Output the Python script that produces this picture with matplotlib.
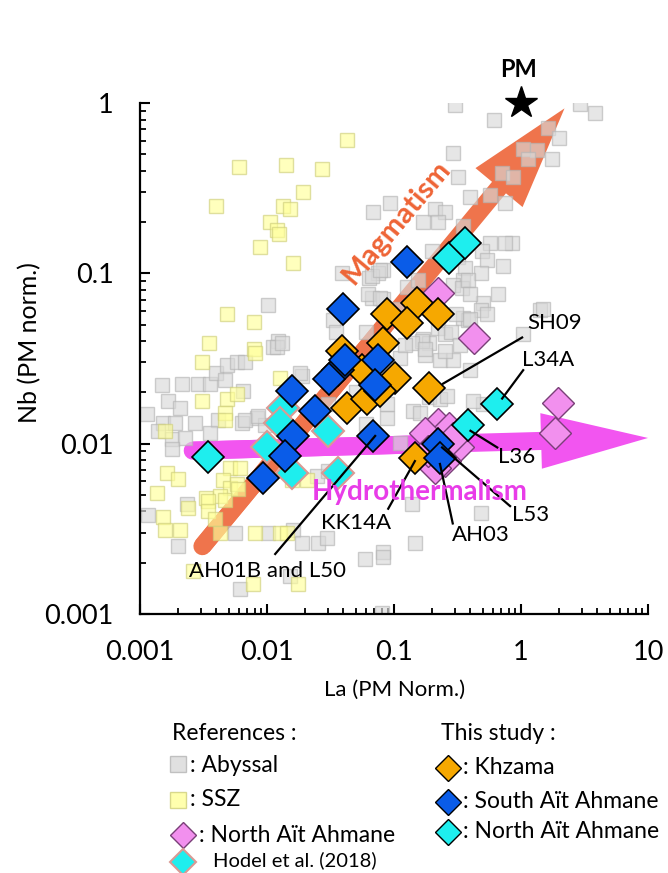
import numpy as np
import matplotlib.pyplot as plt
from matplotlib.lines import Line2D

plt.rcParams['font.family'] = ['Lato', 'DejaVu Sans']

# reference data : abyssal peridotites (grey squares)
abyssal_la = [0.30, 0.61, 2.9, 3.8, 1.63, 2.0, 1.04, 1.34, 0.29, 1.13, 1.75, 0.71, 0.86, 0.32,
              0.40, 0.57, 0.75, 0.093, 0.21, 0.25, 0.17, 0.22, 0.35, 0.85, 0.75, 0.57, 0.49,
              0.20, 0.32, 0.54, 0.72, 0.36, 0.082, 0.48, 0.35, 0.126, 0.29, 0.34, 0.66, 0.50,
              1.41, 1.49, 0.48, 0.54, 0.35, 0.38, 0.22, 1.04, 0.25, 0.17, 0.19, 0.068, 0.039,
              0.075, 0.064, 0.067, 0.082, 0.0102, 0.033, 0.0122, 0.0111, 0.00149, 0.00214,
              0.00286, 0.00356, 0.0040, 0.0048, 0.0058, 0.0047, 0.0065, 0.00166, 0.00207,
              0.00114, 0.00152, 0.00189, 0.0027, 0.0041, 0.0064, 0.0083, 0.00139, 0.00179,
              0.00226, 0.00356, 0.00179, 0.0096, 0.0120, 0.0131, 0.0189, 0.0248, 0.030,
              0.00116, 0.0020, 0.00234, 0.0056, 0.0102, 0.0160, 0.0189, 0.0252, 0.0297, 0.059,
              0.082, 0.082, 0.146, 0.0061, 0.0152, 0.080, 0.48, 0.139, 0.50, 0.19, 0.23, 0.141,
              0.160, 0.0067, 0.0182, 0.0067, 0.0085, 0.067, 0.078, 0.062, 0.078, 0.155, 0.106,
              0.38, 0.40, 0.31, 0.40, 0.28, 0.166, 0.139, 0.175, 0.23, 0.29, 0.111, 0.26, 0.088,
              0.42, 0.111, 0.088, 0.122, 0.175, 0.25, 0.33, 0.40, 0.05, 0.03, 0.06, 0.045,
              0.035, 0.06]
abyssal_nb = [0.97, 0.79, 0.99, 0.87, 0.71, 0.62, 0.54, 0.53, 0.51, 0.47, 0.47, 0.39, 0.37, 0.37,
              0.28, 0.29, 0.26, 0.26, 0.24, 0.23, 0.20, 0.20, 0.19, 0.15, 0.15, 0.15, 0.136,
              0.136, 0.124, 0.119, 0.111, 0.107, 0.104, 0.101, 0.091, 0.083, 0.085, 0.082,
              0.076, 0.067, 0.061, 0.062, 0.061, 0.058, 0.055, 0.053, 0.048, 0.044, 0.044,
              0.041, 0.039, 0.23, 0.101, 0.101, 0.094, 0.072, 0.071, 0.065, 0.053, 0.040,
              0.037, 0.022, 0.0225, 0.0225, 0.0225, 0.026, 0.029, 0.030, 0.0235, 0.0205,
              0.0179, 0.0161, 0.0150, 0.0133, 0.0133, 0.0133, 0.0137, 0.0133, 0.0142, 0.0119,
              0.0107, 0.0108, 0.0115, 0.0093, 0.0128, 0.037, 0.039, 0.025, 0.0065, 0.0069,
              0.0038, 0.0025, 0.0044, 0.0030, 0.0030, 0.0031, 0.0026, 0.0026, 0.0028, 0.0021,
              0.0023, 0.00215, 0.0026, 0.0014, 0.00167, 0.00101, 0.0039, 0.0044, 0.0172,
              0.0187, 0.0184, 0.0156, 0.0152, 0.030, 0.026, 0.0137, 0.0146, 0.097, 0.104,
              0.076, 0.072, 0.091, 0.062, 0.091, 0.076, 0.058, 0.054, 0.045, 0.040, 0.039,
              0.033, 0.031, 0.031, 0.032, 0.019, 0.0142, 0.0179, 0.0101, 0.0172, 0.038, 0.036,
              0.035, 0.038, 0.027, 0.020, 0.017, 0.013, 0.030, 0.045, 0.045]

# reference data : SSZ peridotites (yellow squares)
ssz_la = [0.043, 0.0060, 0.0141, 0.027, 0.0192, 0.0040, 0.0134, 0.0152, 0.0106, 0.0120, 0.0124,
          0.0088, 0.0160, 0.0048, 0.0079, 0.0035, 0.0079, 0.0031, 0.0080, 0.0126, 0.0031,
          0.0048, 0.0058, 0.0047, 0.0047, 0.00157, 0.0051, 0.0061, 0.00163, 0.0020, 0.0045,
          0.0051, 0.0058, 0.00136, 0.0033, 0.0043, 0.0157, 0.0207, 0.00152, 0.00157, 0.00207,
          0.0024, 0.0034, 0.0034, 0.0039, 0.0047, 0.0059, 0.0043, 0.0081, 0.0126, 0.0143,
          0.0026, 0.0078, 0.0175]
ssz_nb = [0.61, 0.42, 0.43, 0.41, 0.30, 0.25, 0.25, 0.24, 0.20, 0.18, 0.17, 0.142, 0.115, 0.058,
          0.052, 0.039, 0.036, 0.030, 0.034, 0.0244, 0.0179, 0.0184, 0.0197, 0.0152, 0.0137,
          0.0119, 0.0072, 0.0072, 0.0067, 0.0062, 0.0061, 0.0055, 0.0058, 0.0051, 0.0048,
          0.0049, 0.0061, 0.0061, 0.0037, 0.0031, 0.0031, 0.0042, 0.0046, 0.0040, 0.0036,
          0.0047, 0.0054, 0.0030, 0.0030, 0.0030, 0.0030, 0.0018, 0.0015, 0.0015]

# Hodel et al. (2018), North Ait Ahmane
hodel_pink_la = [0.22, 0.43, 1.95, 1.85, 0.22, 0.27, 0.175, 0.32, 0.25, 0.21, 0.185, 0.29]
hodel_pink_nb = [0.077, 0.042, 0.0174, 0.0115, 0.0131, 0.0124, 0.0115, 0.0095, 0.0079, 0.0072,
                 0.0091, 0.0108]
hodel_cyan_la = [0.0134, 0.0126, 0.030, 0.010, 0.0157, 0.036]
hodel_cyan_nb = [0.0161, 0.0133, 0.0119, 0.0095, 0.0067, 0.0067]

# this study
khzama_la = [0.088, 0.152, 0.22, 0.126, 0.039, 0.082, 0.056, 0.102, 0.043, 0.061, 0.078, 0.19, 0.146]
khzama_nb = [0.058, 0.067, 0.058, 0.051, 0.035, 0.039, 0.027, 0.0244, 0.0163, 0.0184, 0.0205,
             0.0211, 0.0082]
south_la = [0.126, 0.040, 0.036, 0.041, 0.031, 0.075, 0.071, 0.0157, 0.0239, 0.0160, 0.0139,
            0.0093, 0.068, 0.22, 0.23]
south_nb = [0.116, 0.062, 0.027, 0.031, 0.024, 0.031, 0.022, 0.0205, 0.0156, 0.0111, 0.0085,
            0.0063, 0.0111, 0.0100, 0.0082]
north_la = [0.27, 0.36, 0.65, 0.38, 0.0034]
north_nb = [0.123, 0.15, 0.0172, 0.0128, 0.0083]

# sample labels : text position, then leader line (from, to)
lab_names = ['SH09', 'L34A', 'L36', 'L53', 'AH03', 'KK14A', 'AH01B and L50']
lab_x = [1.85, 1.63, 0.93, 1.18, 0.48, 0.050, 0.010]
lab_y = [0.0508, 0.031, 0.0083, 0.0038, 0.0029, 0.0034, 0.00179]
line_x0 = [1.02, 1.04, 0.65, 0.82, 0.29, 0.090, 0.0116]
line_y0 = [0.042, 0.027, 0.0095, 0.0043, 0.0034, 0.00415, 0.00225]
line_x1 = [0.243, 0.71, 0.40, 0.239, 0.23, 0.146, 0.071]
line_y1 = [0.0225, 0.0184, 0.0119, 0.0095, 0.0076, 0.0079, 0.0111]

# trend arrows
mag_start, mag_tip = (0.0031, 0.0025), (2.2, 0.93)
hyd_start, hyd_tip = (0.0026, 0.0091), (10.0, 0.0108)

c_mag = '#EF744C'
c_hyd = '#F255F0'

fig = plt.figure(figsize=(6.68, 8.73), dpi=100)
ax = fig.add_axes([0.2096, 0.2967, 0.7605, 0.5853])
ax.set_xscale('log')
ax.set_yscale('log')
ax.set_xlim(0.001, 10)
ax.set_ylim(0.001, 1)

# arrows (opaque, under the translucent squares)
for (s, t, c, tw, hw, hl) in [(mag_start, mag_tip, c_mag, 13, 44, 74),
                              (hyd_start, hyd_tip, c_hyd, 13, 40, 77)]:
    mx, my = np.sqrt(s[0] * t[0]), np.sqrt(s[1] * t[1])
    ax.plot([s[0], mx], [s[1], my], color=c, lw=tw, solid_capstyle='round', zorder=1)
    ax.annotate('', xy=t, xytext=s, annotation_clip=False, zorder=1,
                arrowprops=dict(arrowstyle='simple,head_length=%g,head_width=%g,tail_width=%g'
                                % (hl / 10, hw / 10, tw / 10),
                                mutation_scale=10, color=c, shrinkA=0, shrinkB=0, lw=0))

ax.plot(abyssal_la, abyssal_nb, 's', ms=10.5, mfc='#d9d9d9', mec='#b5b5b5', mew=1, alpha=0.65, zorder=2)
ax.plot(ssz_la, ssz_nb, 's', ms=10.5, mfc='#ffff9a', mec='#cfcf7a', mew=1, alpha=0.65, zorder=2)

ax.text(0.104, 0.20, 'Magmatism', rotation=50, color='#EE6436', fontsize=21, fontweight='bold',
        ha='center', va='center', rotation_mode='anchor', zorder=3)

dkw = dict(ls='none', marker='D', ms=16, zorder=4)
ax.plot(hodel_pink_la, hodel_pink_nb, mfc='#F290EE', mec='#7a3f78', mew=1, **dkw)
ax.plot(hodel_cyan_la, hodel_cyan_nb, mfc='#1EEEEE', mec='#d99a94', mew=1.5, **dkw)
ax.plot(khzama_la, khzama_nb, mfc='#F6A800', mec='black', mew=1.2, **dkw)
ax.plot(south_la, south_nb, mfc='#0A5CE8', mec='black', mew=1.2, **dkw)
ax.plot(north_la, north_nb, mfc='#1EEEEE', mec='black', mew=1.2, **dkw)

ax.text(0.160, 0.0052, 'Hydrothermalism', color='#E83CE8', fontsize=20, fontweight='bold',
        ha='center', va='center', zorder=6)

for i in range(len(lab_names)):
    ax.plot([line_x0[i], line_x1[i]], [line_y0[i], line_y1[i]], color='black', lw=1.6, zorder=5)
    ax.text(lab_x[i], lab_y[i], lab_names[i], fontsize=16, ha='center', va='center', zorder=6)

# primitive mantle
ax.plot(1, 1, marker='*', ms=24, color='black', clip_on=False, zorder=6)
ax.text(0.96, 1.58, 'PM', fontsize=17, fontweight='bold', ha='center', va='center')

ax.spines['top'].set_visible(False)
ax.spines['right'].set_visible(False)
ax.spines['left'].set_linewidth(1.6)
ax.spines['bottom'].set_linewidth(1.6)
ax.tick_params(which='major', direction='in', length=7, width=1.5, labelsize=19.5, pad=19)
ax.tick_params(which='minor', direction='in', length=4.5, width=1.3)
ax.set_xticks([0.001, 0.01, 0.1, 1, 10], ['0.001', '0.01', '0.1', '1', '10'])
ax.set_yticks([0.001, 0.01, 0.1, 1], ['0.001', '0.01', '0.1', '1'])
ax.set_xlabel('La (PM Norm.)', fontsize=16)
ax.set_ylabel('Nb (PM norm.)', fontsize=18)
ax.xaxis.set_label_coords(0.502, -0.128)
ax.yaxis.set_label_coords(-0.195, 0.532)

# legend drawn in figure coordinates
W, H = 668.0, 873.0


def fx(px):
    return px / W


def fy(py):
    return 1 - py / H


def key(px, py, **kw):
    fig.add_artist(Line2D([fx(px)], [fy(py)], transform=fig.transFigure, ls='none', **kw))


fs = 16.5
fig.text(fx(172), fy(733), 'References :', fontsize=fs, va='center')
key(178, 764, marker='s', ms=11, mfc='#d9d9d9', mec='#b5b5b5', alpha=0.8)
fig.text(fx(190), fy(765), ': Abyssal', fontsize=fs, va='center')
key(178, 800, marker='s', ms=11, mfc='#ffff9a', mec='#cfcf7a', alpha=0.8)
fig.text(fx(190), fy(800), ': SSZ', fontsize=fs, va='center')
key(183, 835, marker='D', ms=13, mfc='#F290EE', mec='#7a3f78', mew=1)
fig.text(fx(199), fy(836), ': North Aït Ahmane', fontsize=fs, va='center')
key(183, 862, marker='D', ms=13, mfc='#1EEEEE', mec='#d99a94', mew=1.5)
fig.text(fx(213), fy(860), 'Hodel et al. (2018)', fontsize=14.5, va='center')

fig.text(fx(441), fy(733), 'This study :', fontsize=fs, va='center')
key(448, 768, marker='D', ms=13, mfc='#F6A800', mec='black', mew=1)
fig.text(fx(463), fy(767), ': Khzama', fontsize=fs, va='center')
key(448, 802, marker='D', ms=13, mfc='#0A5CE8', mec='black', mew=1)
fig.text(fx(463), fy(801), ': South Aït Ahmane', fontsize=fs, va='center')
key(448, 832, marker='D', ms=13, mfc='#1EEEEE', mec='black', mew=1)
fig.text(fx(463), fy(832), ': North Aït Ahmane', fontsize=fs, va='center')

fig.savefig('out.png', dpi=100)
